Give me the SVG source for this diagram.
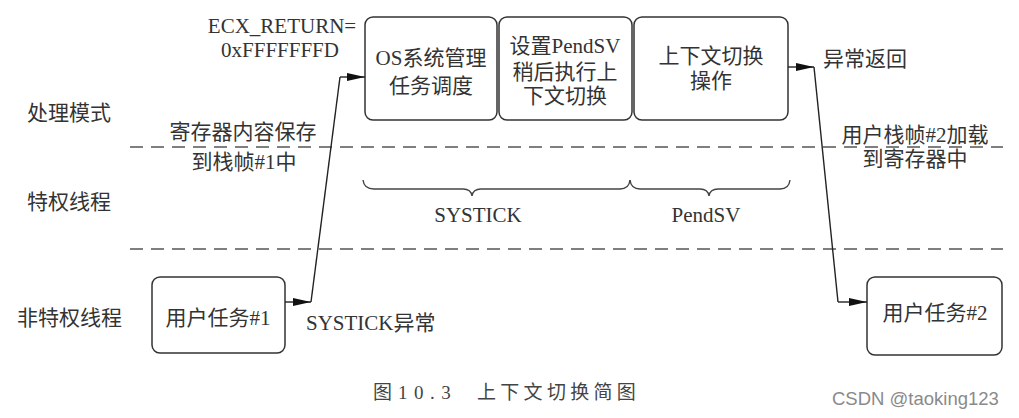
<svg xmlns="http://www.w3.org/2000/svg" width="1019" height="418" viewBox="0 0 1019 418">
  <style>
    .bg { fill: #ffffff; }
    .box { fill: #ffffff; stroke: #333333; stroke-width: 1.5; }
    .t { font-family: "Liberation Serif", "Noto Sans CJK SC", serif; font-size: 21px; fill: #333333; }
    .mid { text-anchor: middle; }
    .lane { stroke: #555555; stroke-width: 1.4; stroke-dasharray: 13 8; fill: none; }
    .wire { stroke: #222222; stroke-width: 1.4; fill: none; }
    .brace { stroke: #444444; stroke-width: 1.4; fill: none; }
    .cap { font-family: "Liberation Serif", "Noto Sans CJK SC", serif; font-size: 19px; fill: #444444; }
    .mark { font-family: "Liberation Sans", "Noto Sans", sans-serif; font-size: 18.5px; fill: #8a8a8a; }
  </style>
  <defs>
    <marker id="arrow" viewBox="0 0 18 8" refX="18" refY="4" markerWidth="18" markerHeight="8" markerUnits="userSpaceOnUse" orient="auto">
      <path d="M0,0 L18,4 L0,8 Z" fill="#111111"/>
    </marker>
  </defs>

  <rect class="bg" x="0" y="0" width="1019" height="418"/>

  <!-- mode / privilege lanes -->
  <g id="lanes">
    <line class="lane" x1="130" y1="147" x2="1003" y2="147"/>
    <line class="lane" x1="130" y1="249" x2="1003" y2="249"/>
    <text class="t" x="27" y="120">处理模式</text>
    <text class="t" x="27" y="209">特权线程</text>
    <text class="t" x="17" y="325">非特权线程</text>
  </g>

  <!-- nodes -->
  <g id="user-task-1">
    <rect class="box" x="152" y="277" width="133" height="76" rx="8"/>
    <text class="t mid" x="218" y="325">用户任务#1</text>
  </g>
  <g id="os-scheduler">
    <rect class="box" x="365" y="17" width="132" height="103" rx="8"/>
    <text class="t mid" x="431" y="65">OS系统管理</text>
    <text class="t mid" x="431" y="93">任务调度</text>
  </g>
  <g id="set-pendsv">
    <rect class="box" x="499" y="17" width="133" height="103" rx="8"/>
    <text class="t mid" x="565" y="53">设置PendSV</text>
    <text class="t mid" x="565" y="79">稍后执行上</text>
    <text class="t mid" x="565" y="103">下文切换</text>
  </g>
  <g id="context-switch">
    <rect class="box" x="634" y="17" width="154" height="103" rx="8"/>
    <text class="t mid" x="711" y="63">上下文切换</text>
    <text class="t mid" x="711" y="88">操作</text>
  </g>
  <g id="user-task-2">
    <rect class="box" x="867" y="277" width="135" height="78" rx="8"/>
    <text class="t mid" x="935" y="320">用户任务#2</text>
  </g>

  <!-- connectors -->
  <g id="connectors">
    <path class="wire" d="M285,302 L311,302" marker-end="url(#arrow)"/>
    <path class="wire" d="M311,302 L340,77"/>
    <path class="wire" d="M340,77 L365,77" marker-end="url(#arrow)"/>
    <path class="wire" d="M788,67 L814,67" marker-end="url(#arrow)"/>
    <path class="wire" d="M814,67 L838,302"/>
    <path class="wire" d="M838,302 L867,302" marker-end="url(#arrow)"/>
  </g>

  <!-- connector labels -->
  <g id="labels">
    <text class="t mid" x="282" y="33">ECX_RETURN=</text>
    <text class="t mid" x="280" y="57">0xFFFFFFFD</text>
    <text class="t mid" x="243" y="139">寄存器内容保存</text>
    <text class="t mid" x="244" y="169">到栈帧#1中</text>
    <text class="t" x="306" y="330">SYSTICK异常</text>
    <text class="t" x="823" y="66">异常返回</text>
    <text class="t mid" x="915" y="142">用户栈帧#2加载</text>
    <text class="t mid" x="915" y="166">到寄存器中</text>
  </g>

  <!-- interrupt spans -->
  <g id="spans">
    <path class="brace" d="M363,180 Q364,189 374,189 L463,189 Q471,189 472,196 Q473,189 481,189 L620,189 Q629,189 630,180"/>
    <path class="brace" d="M630,180 Q631,189 640,189 L700,189 Q708,189 709,196 Q710,189 718,189 L780,189 Q789,189 790,180"/>
    <text class="t mid" x="478" y="222">SYSTICK</text>
    <text class="t mid" x="706" y="222">PendSV</text>
  </g>

  <!-- caption -->
  <g id="caption">
    <text class="cap" x="373" y="399">图</text>
    <text class="cap" x="398" y="399" letter-spacing="6.5">10.3</text>
    <text class="cap" x="477" y="399" letter-spacing="4.3">上下文切换简图</text>
  </g>
  <text class="mark" x="832" y="405">CSDN @taoking123</text>
</svg>
